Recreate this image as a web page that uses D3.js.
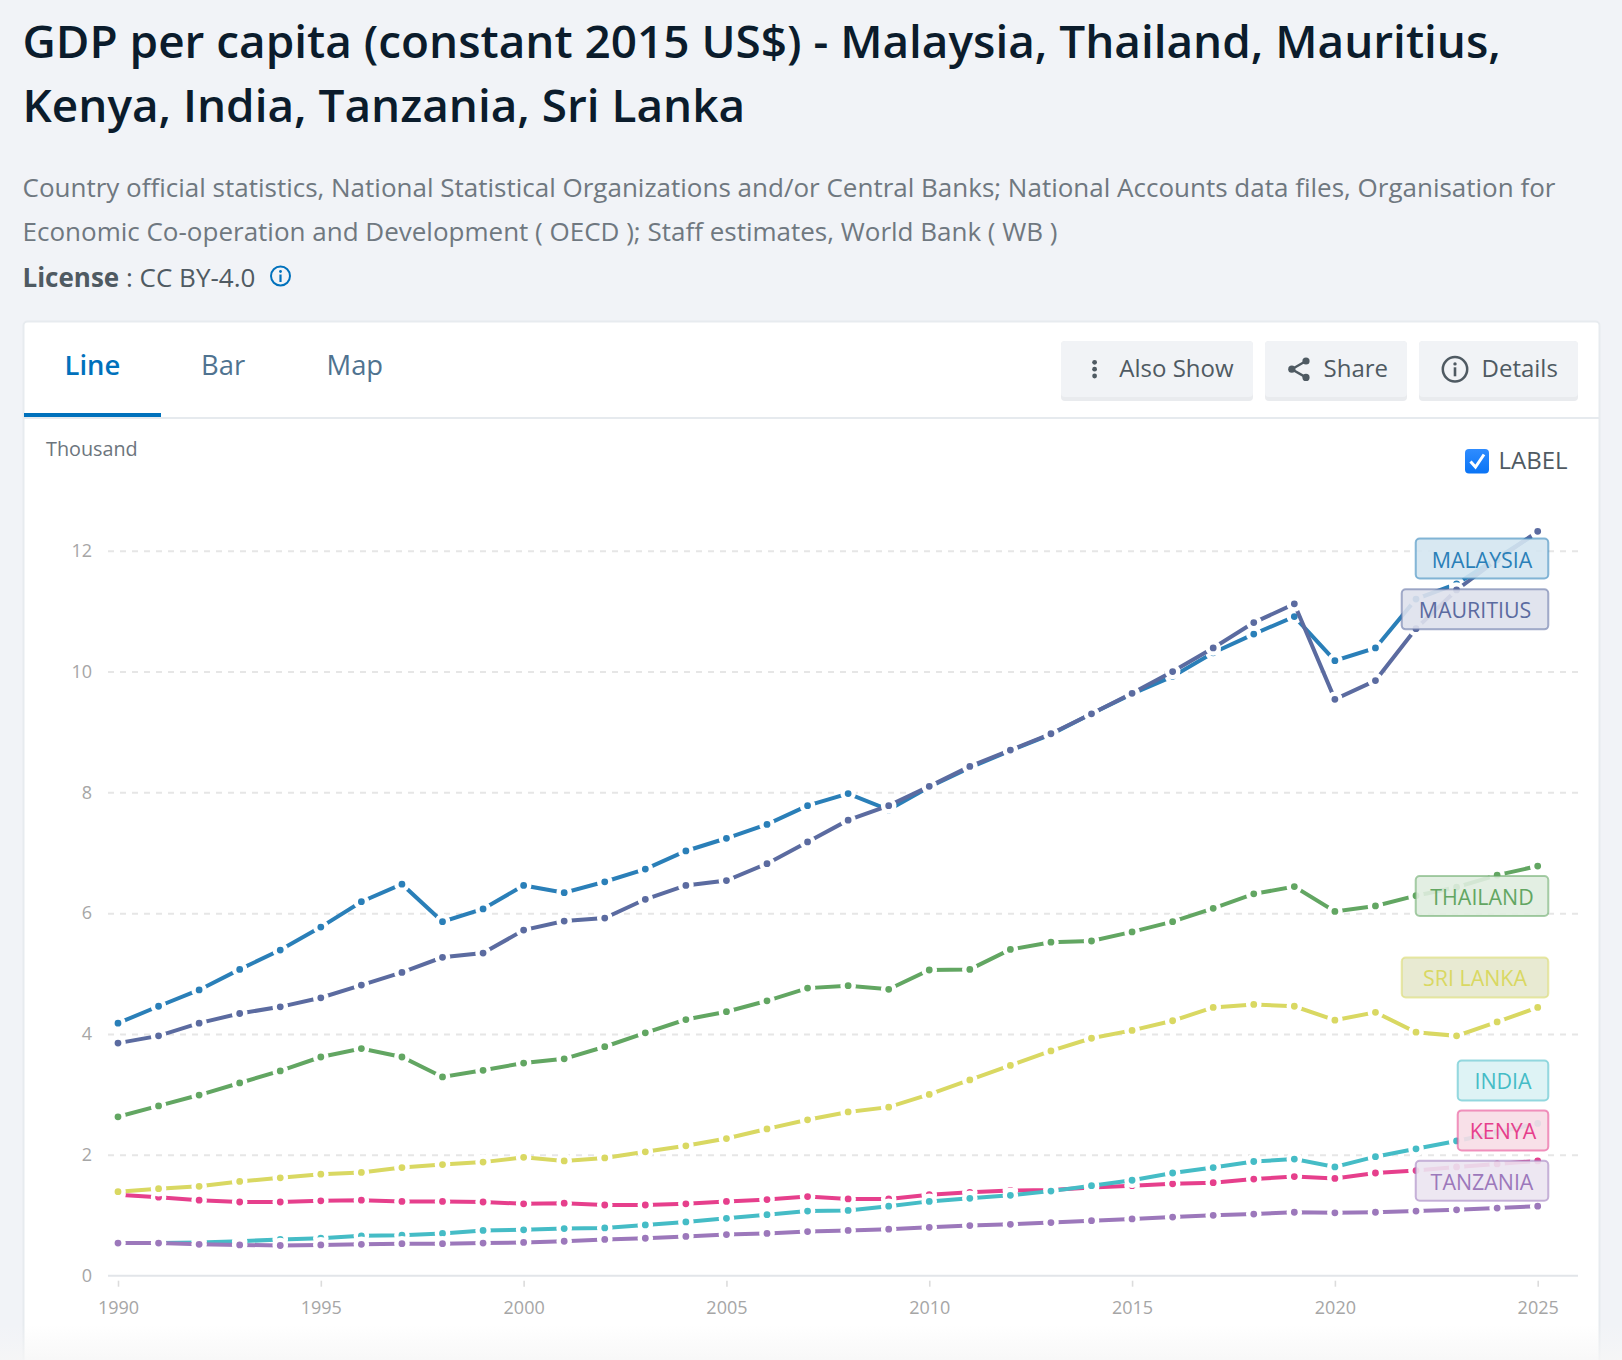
<!DOCTYPE html>
<html>
<head>
<meta charset="utf-8">
<script src="https://cdn.jsdelivr.net/npm/d3@7"></script>
<style>
	html,body{margin:0;padding:0;background:#f1f3f7}
	svg{display:block}
	text{font-family:"Open Sans","Noto Sans",sans-serif}
	.grid line{stroke:#e6e6e6;stroke-width:2;stroke-dasharray:6 6}
	.tick text{fill:#a6a6a6;font-size:18px}
</style>
</head>
<body>
<div id="chart"></div>
<script>
const years=[1990,1991,1992,1993,1994,1995,1996,1997,1998,1999,2000,2001,2002,2003,2004,2005,2006,2007,2008,2009,2010,2011,2012,2013,2014,2015,2016,2017,2018,2019,2020,2021,2022,2023,2024,2025]
const xTicks=[1990,1995,2000,2005,2010,2015,2020,2025]
const yTicks=[0,2,4,6,8,10,12]

const malaysia=[4.18,4.46,4.73,5.07,5.39,5.77,6.19,6.48,5.86,6.07,6.46,6.34,6.52,6.73,7.03,7.24,7.47,7.78,7.98,7.71,8.09,8.41,8.69,8.96,9.30,9.63,9.92,10.31,10.62,10.91,10.18,10.39,11.20,11.45,11.88,12.30]
const thailand=[2.63,2.81,2.99,3.19,3.39,3.62,3.76,3.62,3.29,3.40,3.52,3.59,3.79,4.02,4.24,4.37,4.55,4.76,4.80,4.74,5.06,5.07,5.40,5.52,5.54,5.69,5.86,6.08,6.32,6.44,6.03,6.12,6.29,6.43,6.63,6.78]
const mauritius=[3.85,3.97,4.18,4.34,4.45,4.60,4.81,5.02,5.27,5.34,5.72,5.87,5.92,6.23,6.46,6.54,6.82,7.18,7.54,7.78,8.10,8.43,8.70,8.97,9.30,9.64,10.00,10.39,10.81,11.12,9.54,9.85,10.71,11.35,11.85,12.32]
const kenya=[1.34,1.30,1.25,1.22,1.22,1.24,1.25,1.23,1.23,1.22,1.19,1.20,1.17,1.17,1.19,1.23,1.26,1.31,1.27,1.27,1.34,1.38,1.41,1.42,1.46,1.49,1.52,1.54,1.60,1.64,1.61,1.70,1.74,1.80,1.85,1.90]
const india=[0.54,0.54,0.55,0.57,0.60,0.62,0.66,0.67,0.70,0.75,0.76,0.78,0.79,0.84,0.89,0.95,1.01,1.07,1.08,1.15,1.23,1.28,1.33,1.40,1.49,1.58,1.70,1.79,1.89,1.93,1.80,1.97,2.10,2.23,2.37,2.52]
const tanzania=[0.54,0.54,0.52,0.51,0.50,0.51,0.52,0.53,0.53,0.54,0.55,0.57,0.60,0.62,0.65,0.68,0.70,0.73,0.75,0.77,0.80,0.83,0.85,0.88,0.91,0.94,0.97,1.00,1.02,1.05,1.04,1.05,1.07,1.09,1.12,1.15]
const sriLanka=[1.39,1.44,1.48,1.56,1.62,1.68,1.71,1.79,1.84,1.88,1.96,1.90,1.95,2.05,2.15,2.27,2.43,2.58,2.71,2.79,3.00,3.24,3.48,3.72,3.93,4.06,4.22,4.44,4.49,4.46,4.23,4.36,4.03,3.97,4.20,4.44]

const seriesNames=['MALAYSIA','THAILAND','MAURITIUS','KENYA','INDIA','TANZANIA','SRI LANKA']
const seriesValues=[malaysia,thailand,mauritius,kenya,india,tanzania,sriLanka]
const seriesColors=['#2a7fb8','#62a662','#5b6ba0','#e63f8c','#45bcc6','#9c78bb','#d9d862']
const labelFills=['#2a7fb8','#62a662','#5b6ba0','#d9567f','#45bcc6','#9c78bb','#828c05']
// label centre, measured from the last point of the line
const labelOffsets=[26,30,78,-30.5,-43,-25.5,-30]

const titleLines=['GDP per capita (constant 2015 US$) - Malaysia, Thailand, Mauritius,','Kenya, India, Tanzania, Sri Lanka']
const sourceLines=['Country official statistics, National Statistical Organizations and/or Central Banks; National Accounts data files, Organisation for','Economic Co-operation and Development ( OECD ); Staff estimates, World Bank ( WB )']

const width=1622,height=1360
const margin=({top:550.7,right:84.3,bottom:84.3,left:118})

const svg=d3.select('#chart').append('svg')
	.attr('width',width)
	.attr('height',height)

const defs=svg.append('defs')
const fade=defs.append('linearGradient').attr('id','fade').attr('x1',0).attr('x2',0).attr('y1',0).attr('y2',1)
fade.append('stop').attr('offset','0%').attr('stop-color','#f6f6f6').attr('stop-opacity',0)
fade.append('stop').attr('offset','100%').attr('stop-color','#f6f6f6').attr('stop-opacity',0.8)
const boxBlue=defs.append('linearGradient').attr('id','boxBlue').attr('x1',0).attr('x2',0).attr('y1',0).attr('y2',1)
boxBlue.append('stop').attr('offset','0%').attr('stop-color','#2f8cff')
boxBlue.append('stop').attr('offset','100%').attr('stop-color','#0a74f5')

// page header
svg.append('g').selectAll('text')
	.data(titleLines)
	.join('text')
	.attr('x',22.5)
	.attr('y',(d,i)=>58+i*64)
	.attr('fill','#0b1c2c')
	.attr('font-size',45.9)
	.attr('font-weight',600)
	.text(d=>d)

svg.append('g').selectAll('text')
	.data(sourceLines)
	.join('text')
	.attr('x',22.5)
	.attr('y',(d,i)=>197+i*44)
	.attr('fill','#6f7880')
	.attr('font-size',26)
	.text(d=>d)

const license=svg.append('text')
	.attr('x',22.5)
	.attr('y',286.7)
	.attr('font-size',26)
	.attr('fill','#4f5a62')
license.append('tspan').attr('font-weight',700).text('License')
license.append('tspan').text(' : CC BY-4.0')

const infoIcon=svg.append('g')
	.attr('transform','translate(280.5,276)')
	.attr('fill','#0071bc')
infoIcon.append('circle').attr('r',9.5).attr('fill','none').attr('stroke','#0071bc').attr('stroke-width',2)
infoIcon.append('circle').attr('cy',-4.5).attr('r',1.4)
infoIcon.append('rect').attr('x',-1.1).attr('y',-1.5).attr('width',2.2).attr('height',7.5)

// card with tabs and buttons
svg.append('rect')
	.attr('x',23.5)
	.attr('y',321.5)
	.attr('width',1576)
	.attr('height',1060)
	.attr('rx',4)
	.attr('fill','#fff')
	.attr('stroke','#e7ebef')
	.attr('stroke-width',2)

svg.append('line')
	.attr('x1',24).attr('x2',1599)
	.attr('y1',418).attr('y2',418)
	.attr('stroke','#e6eaee')
	.attr('stroke-width',2)

svg.append('rect')
	.attr('x',24).attr('y',413)
	.attr('width',137).attr('height',4)
	.attr('fill','#0071bc')

const tabs=[['Line',64.5,'#0071bc',600],['Bar',201,'#4f7390',400],['Map',326.5,'#4f7390',400]]
svg.append('g').selectAll('text')
	.data(tabs)
	.join('text')
	.attr('x',d=>d[1])
	.attr('y',375)
	.attr('font-size',27.4)
	.attr('font-weight',d=>d[3])
	.attr('fill',d=>d[2])
	.text(d=>d[0])

const buttons=[['Also Show',1061,192,1119.3],['Share',1265,142,1323.6],['Details',1419,159,1481.5]]
const button=svg.append('g').selectAll('g')
	.data(buttons)
	.join('g')
button.append('rect')
	.attr('x',d=>d[1]).attr('y',341)
	.attr('width',d=>d[2]).attr('height',60)
	.attr('rx',4)
	.attr('fill','#e9ebee')
button.append('rect')
	.attr('x',d=>d[1]).attr('y',341)
	.attr('width',d=>d[2]).attr('height',56)
	.attr('rx',4)
	.attr('fill','#f1f3f6')
button.append('text')
	.attr('x',d=>d[3])
	.attr('y',377)
	.attr('font-size',24)
	.attr('fill','#4f5a62')
	.text(d=>d[0])

const iconColor='#4f5a62'
svg.append('g').attr('fill',iconColor).selectAll('circle')
	.data([362.3,369.2,376])
	.join('circle')
	.attr('cx',1094.6)
	.attr('cy',d=>d)
	.attr('r',2.4)

const shareIcon=svg.append('g').attr('fill',iconColor)
const shareNodes=[[1306,361],[1291.8,369.2],[1306,377.4]]
shareIcon.append('path')
	.attr('d',d3.line()(shareNodes))
	.attr('fill','none')
	.attr('stroke',iconColor)
	.attr('stroke-width',2.4)
shareIcon.selectAll('circle')
	.data(shareNodes)
	.join('circle')
	.attr('cx',d=>d[0])
	.attr('cy',d=>d[1])
	.attr('r',3.6)

const detailsIcon=svg.append('g')
	.attr('transform','translate(1455,369.3)')
	.attr('fill',iconColor)
detailsIcon.append('circle').attr('r',12.2).attr('fill','none').attr('stroke',iconColor).attr('stroke-width',2.5)
detailsIcon.append('circle').attr('cy',-5.4).attr('r',1.7)
detailsIcon.append('rect').attr('x',-1.3).attr('y',-2).attr('width',2.6).attr('height',9)

svg.append('text')
	.attr('x',46)
	.attr('y',456)
	.attr('font-size',19.8)
	.attr('fill','#6c757d')
	.text('Thousand')

svg.append('rect')
	.attr('x',1465).attr('y',449)
	.attr('width',24).attr('height',24.5)
	.attr('rx',4)
	.attr('fill','url(#boxBlue)')
svg.append('path')
	.attr('d',d3.line()([[1470.5,461.5],[1475.5,467],[1484,454.5]]))
	.attr('fill','none')
	.attr('stroke','#fff')
	.attr('stroke-width',3)
svg.append('text')
	.attr('x',1498.5)
	.attr('y',469)
	.attr('font-size',24)
	.attr('fill','#4f5a62')
	.text('LABEL')

// chart
const xScale=d3.scaleLinear()
	.domain([1990,2025])
	.range([margin.left,width-margin.right])

const yScale=d3.scaleLinear()
	.domain([0,12])
	.range([height-margin.bottom,margin.top])

const yAxis=d3.axisLeft(yScale)
	.tickValues(yTicks)
	.tickSize(-1470)
	.tickPadding(16)

const gridG=svg.append('g')
	.attr('class','grid')
	.attr('transform','translate(108,0)')
	.call(yAxis)
gridG.select('.domain').remove()
gridG.selectAll('.tick').filter(d=>d===0).select('line').remove()

const xAxis=d3.axisBottom(xScale)
	.tickValues(xTicks)
	.tickFormat(d3.format('d'))
	.tickSize(0)
	.tickPadding(26)

const xG=svg.append('g')
	.attr('transform',`translate(0,${height-margin.bottom})`)
	.call(xAxis)
xG.select('.domain').remove()
xG.selectAll('.tick').append('line')
	.attr('y1',5)
	.attr('y2',11)
	.attr('stroke','#dcdcdc')
	.attr('stroke-width',1.6)

svg.append('line')
	.attr('x1',108).attr('x2',1578)
	.attr('y1',yScale(0)).attr('y2',yScale(0))
	.attr('stroke','#e2e5e9')
	.attr('stroke-width',2)

const line=d3.line()
	.x((d,i)=>xScale(years[i]))
	.y(d=>yScale(d))

seriesValues.forEach((values,s)=>{
	const g=svg.append('g')
	g.append('path')
		.datum(values)
		.attr('d',line)
		.attr('fill','none')
		.attr('stroke',seriesColors[s])
		.attr('stroke-width',4)
	g.selectAll('circle')
		.data(values)
		.join('circle')
		.attr('cx',(d,i)=>xScale(years[i]))
		.attr('cy',d=>yScale(d))
		.attr('r',5.6)
		.attr('fill',seriesColors[s])
		.attr('stroke','#fff')
		.attr('stroke-width',4.4)
})

// end labels, box width goes by the number of letters
seriesNames.forEach((name,s)=>{
	const values=seriesValues[s]
	const cy=yScale(values[values.length-1])+labelOffsets[s]
	const right=width-margin.right+10.6
	const w=name.length*14+20.6
	const g=svg.append('g')
	g.append('rect')
		.attr('x',right-w)
		.attr('y',cy-20)
		.attr('width',w)
		.attr('height',40)
		.attr('rx',4)
		.attr('fill',d3.interpolateRgb('#fff',labelFills[s])(0.2))
		.attr('fill-opacity',0.9)
		.attr('stroke',seriesColors[s])
		.attr('stroke-opacity',0.55)
		.attr('stroke-width',2)
	g.append('text')
		.attr('x',right-w/2)
		.attr('y',cy+9)
		.attr('text-anchor','middle')
		.attr('font-size',21.4)
		.attr('fill',seriesColors[s])
		.text(name)
})

svg.append('rect')
	.attr('x',0).attr('y',1325)
	.attr('width',width).attr('height',35)
	.attr('fill','url(#fade)')
</script>
</body>
</html>
